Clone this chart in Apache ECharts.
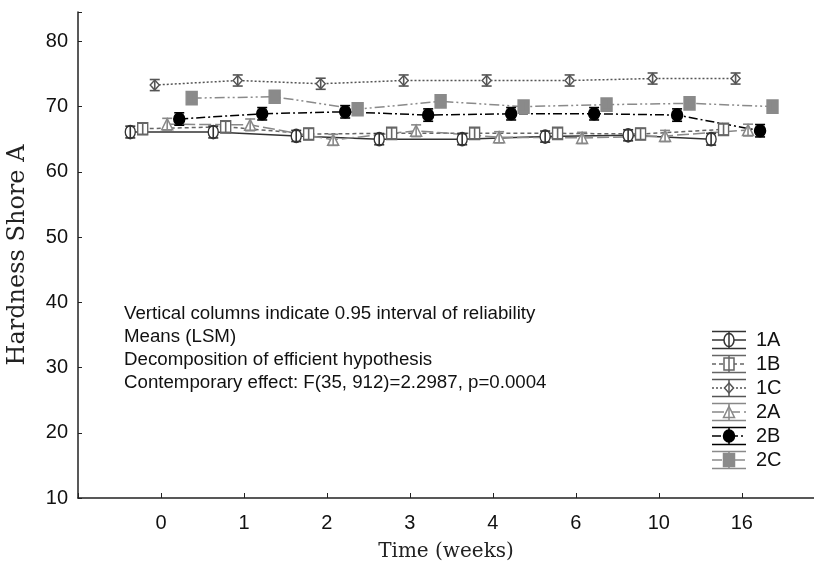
<!DOCTYPE html>
<html>
<head>
<meta charset="utf-8">
<script src="https://cdn.jsdelivr.net/npm/echarts@6/dist/echarts.min.js"></script>
<style>
html, body { margin: 0; padding: 0; background: #fff; }
#chart { width: 814px; height: 561px; }
</style>
</head>
<body>
<div id="chart"></div>
<script>
// time points (weeks) and groups
var weeks = ['0', '1', '2', '3', '4', '6', '10', '16'];
var groups = ['1A', '1B', '1C', '2A', '2B', '2C'];

// means
var mean1A = [66.1, 66.1, 65.5, 65.0, 65.0, 65.4, 65.6, 65.0];
var mean1B = [66.6, 66.9, 65.8, 65.9, 65.9, 65.9, 65.8, 66.5];
var mean1C = [73.3, 74.0, 73.5, 74.0, 74.0, 74.0, 74.3, 74.3];
var mean2A = [67.3, 67.2, 64.9, 66.3, 65.3, 65.2, 65.5, 66.4];
var mean2B = [68.1, 68.9, 69.2, 68.7, 68.9, 68.9, 68.7, 66.3];
var mean2C = [71.3, 71.5, 69.6, 70.8, 70.0, 70.3, 70.5, 70.0];

// half width of the 0.95 intervals
var ci1A = [0.9, 0.9, 0.85, 0.85, 0.85, 0.85, 0.85, 0.9];
var ci1B = [0.85, 0.85, 0.85, 0.85, 0.85, 0.85, 0.85, 0.85];
var ci1C = [0.85, 0.85, 0.85, 0.85, 0.85, 0.85, 0.85, 0.85];
var ci2A = [0.9, 0.9, 0.85, 0.9, 0.85, 0.85, 0.85, 0.9];
var ci2B = [0.95, 0.95, 0.95, 0.95, 0.95, 0.95, 0.95, 0.95];
var ci2C = [0.75, 0.75, 0.75, 0.75, 0.75, 0.75, 0.75, 0.75];

var yTicks = [10, 20, 30, 40, 50, 60, 70, 80];

var noteLines = [
	'Vertical columns indicate 0.95 interval of reliability',
	'Means (LSM)',
	'Decomposition of efficient hypothesis',
	'Contemporary effect: F(35, 912)=2.2987, p=0.0004'
];

var means = [mean1A, mean1B, mean1C, mean2A, mean2B, mean2C];
var cis = [ci1A, ci1B, ci1C, ci2A, ci2B, ci2C];

// look of each group
var looks = [
	{color: '#333', dash: 'solid', symbol: 'circle', size: [10, 13], fill: '#fff', off: -0.37},
	{color: '#666', dash: [4, 3], symbol: 'rect', size: [10, 12], fill: '#fff', off: -0.22},
	{color: '#555', dash: [2, 2], symbol: 'diamond', size: [9, 10], fill: '#fff', off: -0.075},
	{color: '#888', dash: [12, 4], symbol: 'triangle', size: [11, 11], fill: '#fff', off: 0.075},
	{color: '#000', dash: [9, 3, 2, 3], symbol: 'circle', size: [11, 12], fill: '#000', off: 0.22},
	{color: '#8a8a8a', dash: [10, 3, 2, 3, 2, 3], symbol: 'rect', size: [11, 13], fill: '#8a8a8a', off: 0.37}
];

var chart = echarts.init(document.getElementById('chart'));

var series = [];
groups.forEach(function(g, k) {
	var lk = looks[k];
	series.push({
		name: g,
		type: 'line',
		z: 2,
		data: weeks.map(function(w, i) { return [i + lk.off, means[k][i]]; }),
		symbol: lk.symbol,
		symbolSize: lk.size,
		showAllSymbol: true,
		lineStyle: {color: lk.color, width: 1.5, type: lk.dash},
		itemStyle: {color: lk.fill, borderColor: lk.color, borderWidth: 1.5},
		animation: false
	});
	series.push({
		name: g,
		type: 'custom',
		z: 3,
		data: weeks.map(function(w, i) { return [i + lk.off, means[k][i], cis[k][i]]; }),
		renderItem: function(params, api) {
			var x = api.value(0), m = api.value(1), e = api.value(2);
			var hi = api.coord([x, m + e]);
			var lo = api.coord([x, m - e]);
			var st = {stroke: lk.color, lineWidth: 1.6};
			return {
				type: 'group',
				children: [
					{type: 'line', shape: {x1: hi[0], y1: hi[1], x2: lo[0], y2: lo[1]}, style: st},
					{type: 'line', shape: {x1: hi[0] - 5, y1: hi[1], x2: hi[0] + 5, y2: hi[1]}, style: st},
					{type: 'line', shape: {x1: lo[0] - 5, y1: lo[1], x2: lo[0] + 5, y2: lo[1]}, style: st}
				]
			};
		},
		animation: false
	});
});

// legend glyphs: error bar with the series line and marker
function markerShape(lk, cx, cy) {
	var w = lk.size[0] / 2, h = lk.size[1] / 2;
	var st = {fill: lk.fill, stroke: lk.color, lineWidth: 1.5};
	if (lk.symbol === 'circle') {
		return {type: 'ellipse', shape: {cx: cx, cy: cy, rx: w, ry: h}, style: st};
	}
	if (lk.symbol === 'rect') {
		return {type: 'rect', shape: {x: cx - w, y: cy - h, width: w * 2, height: h * 2}, style: st};
	}
	if (lk.symbol === 'diamond') {
		return {type: 'polygon', shape: {points: [[cx, cy - h], [cx + w, cy], [cx, cy + h], [cx - w, cy]]}, style: st};
	}
	return {type: 'polygon', shape: {points: [[cx, cy - h], [cx + w, cy + h], [cx - w, cy + h]]}, style: st};
}

var graphics = [];
groups.forEach(function(g, k) {
	var lk = looks[k];
	var cy = 340 + k * 24, x1 = 712, x2 = 746, cx = 729;
	var st = {stroke: lk.color, lineWidth: 1.5};
	graphics.push({type: 'line', shape: {x1: x1, y1: cy - 8.5, x2: x2, y2: cy - 8.5}, style: st});
	graphics.push({type: 'line', shape: {x1: x1, y1: cy + 8.5, x2: x2, y2: cy + 8.5}, style: st});
	graphics.push({type: 'line', shape: {x1: x1, y1: cy, x2: x2, y2: cy},
		style: {stroke: lk.color, lineWidth: 1.5, lineDash: lk.dash === 'solid' ? null : lk.dash}});
	graphics.push(markerShape(lk, cx, cy));
	graphics.push({type: 'line', shape: {x1: cx, y1: cy - 8.5, x2: cx, y2: cy + 8.5}, style: st});
	graphics.push({type: 'text', x: 756, y: cy,
		style: {text: g, font: '20px "Liberation Sans", Arial, sans-serif', fill: '#111', textVerticalAlign: 'middle'}});
});
noteLines.forEach(function(t, i) {
	graphics.push({type: 'text', x: 124, y: 314 + i * 23,
		style: {text: t, font: '18.7px "Liberation Sans", Arial, sans-serif', fill: '#111', textVerticalAlign: 'middle'}});
});

var option = {
	backgroundColor: '#fff',
	animation: false,
	grid: {left: 78, right: 0, top: 12, bottom: 63, containLabel: false, outerBoundsMode: 'none'},
	xAxis: {
		type: 'value',
		min: -1,
		max: 7.87,
		interval: 1,
		name: 'Time (weeks)',
		nameLocation: 'middle',
		nameGap: 44,
		nameTextStyle: {fontFamily: 'DejaVu Serif', fontSize: 20, color: '#222'},
		axisLine: {onZero: false, lineStyle: {color: '#222', width: 1.5}},
		axisTick: {inside: true, length: 5, lineStyle: {color: '#222'}},
		axisLabel: {
			margin: 15,
			fontFamily: 'Liberation Sans',
			fontSize: 20,
			color: '#111',
			formatter: function(v) {
				return (v >= 0 && v < weeks.length && v === Math.round(v)) ? weeks[v] : '';
			}
		},
		splitLine: {show: false}
	},
	yAxis: {
		type: 'value',
		min: yTicks[0],
		max: 84.5,
		interval: 10,
		name: 'Hardness Shore A',
		nameLocation: 'middle',
		nameGap: 48,
		nameTextStyle: {fontFamily: 'DejaVu Serif', fontSize: 24, color: '#222'},
		axisLine: {show: true, onZero: false, lineStyle: {color: '#222', width: 1.5}},
		axisTick: {show: true, inside: true, length: 4, lineStyle: {color: '#222'}},
		axisLabel: {
			margin: 10,
			fontFamily: 'Liberation Sans',
			fontSize: 20,
			color: '#111',
			formatter: function(v) {
				return yTicks.indexOf(v) >= 0 ? String(v) : '';
			}
		},
		splitLine: {show: false}
	},
	series: series,
	graphic: graphics
};

chart.setOption(option);
</script>
</body>
</html>
